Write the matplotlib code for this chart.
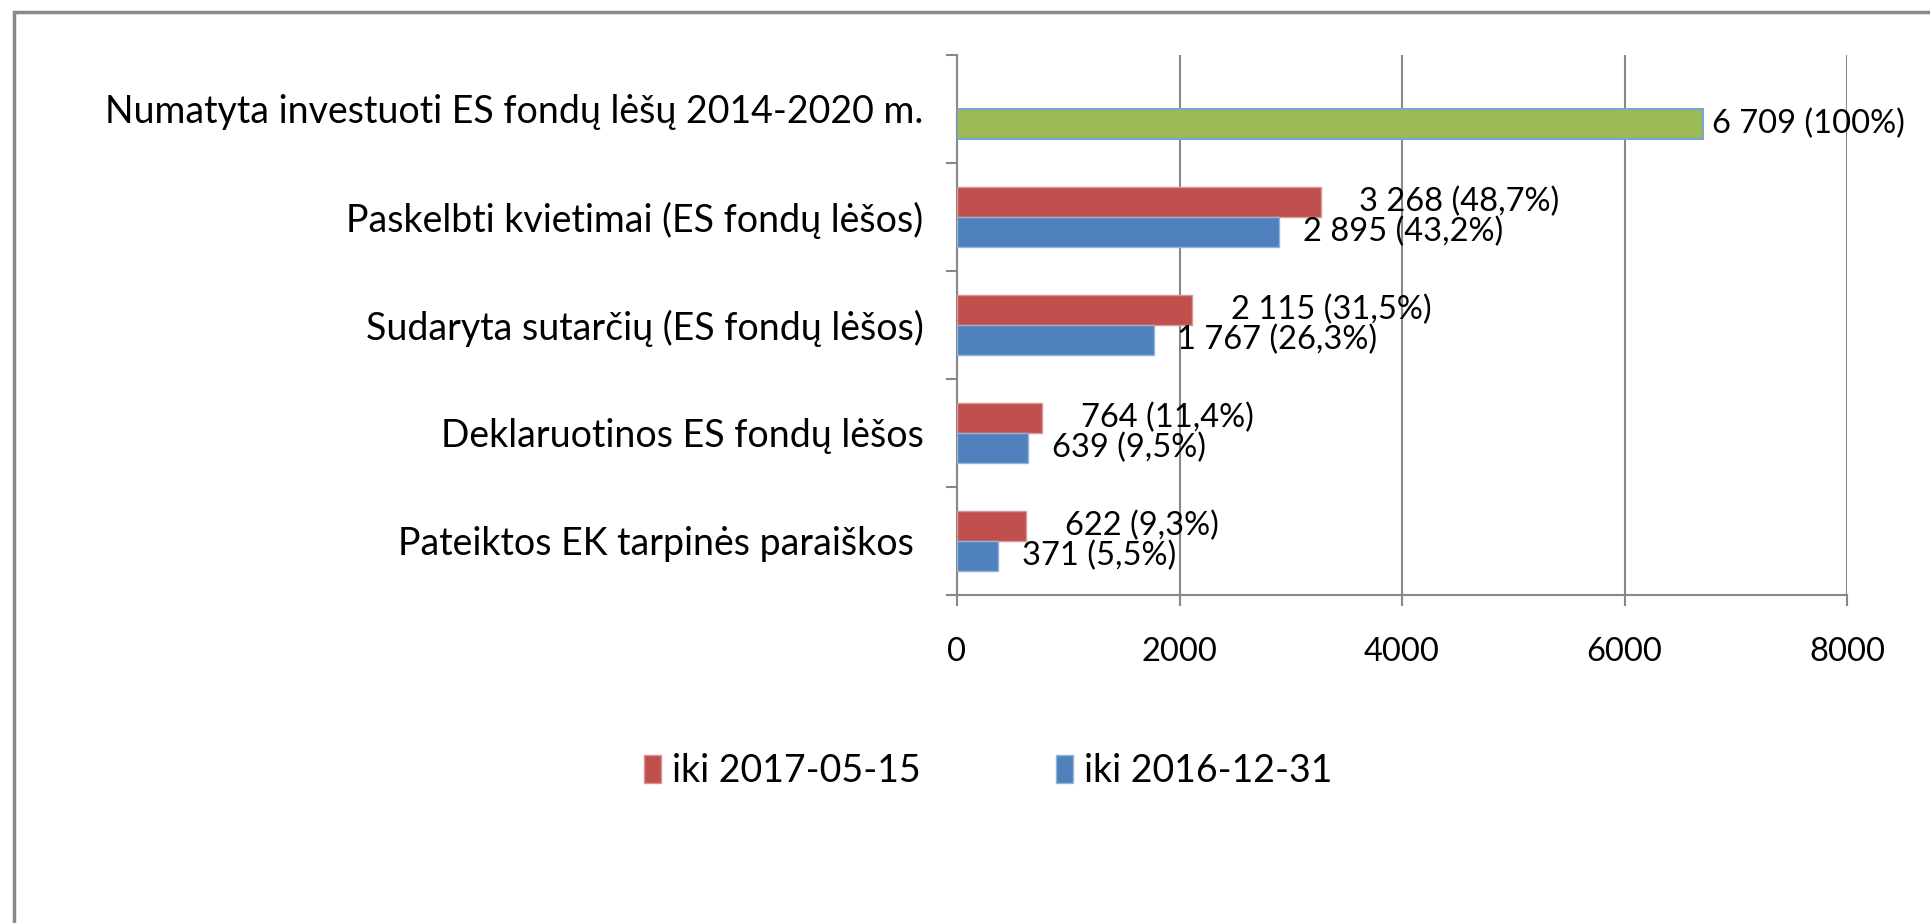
import matplotlib
matplotlib.use("Agg")
import matplotlib.pyplot as plt
from matplotlib.patches import Rectangle, Patch

plt.rcParams["font.family"] = ["Lato", "DejaVu Sans"]

# Data (EUR millions)
categories = [
    "Numatyta investuoti ES fondų lėšų 2014-2020 m.",
    "Paskelbti kvietimai (ES fondų lėšos)",
    "Sudaryta sutarčių (ES fondų lėšos)",
    "Deklaruotinos ES fondų lėšos",
    "Pateiktos EK tarpinės paraiškos ",
]
planned_total = 6709
values_2017 = [3268, 2115, 764, 622]   # iki 2017-05-15, categories 2..5
values_2016 = [2895, 1767, 639, 371]   # iki 2016-12-31, categories 2..5
series_names = ["iki 2017-05-15", "iki 2016-12-31"]
xticks = [0, 2000, 4000, 6000, 8000]

RED = "#C0504D"
BLUE = "#4F81BD"
GREEN = "#9BBB59"
GRID = "#888888"
FS = 23.5       # ticks and value labels
FS_CAT = 27     # category labels
FS_LEG = 27     # legend


def fmt_label(v):
    p = v / planned_total * 100
    pct = "100" if round(p, 1) == 100 else f"{p:.1f}".replace(".", ",")
    num = f"{v:,}".replace(",", " ")
    return f"{num} ({pct}%)"


fig = plt.figure(figsize=(19.31, 9.23), dpi=100)
ax = fig.add_axes([957 / 1931, 1 - 595 / 923, 890 / 1931, 540 / 923])

h = 0.274
pos = list(range(1, len(categories)))
red_bars = ax.barh([p - h / 2 for p in pos], values_2017, height=h,
                   color=RED, edgecolor="#D99694", linewidth=1, zorder=3)
blue_bars = ax.barh([p + h / 2 for p in pos], values_2016, height=h,
                    color=BLUE, edgecolor="#95B3D7", linewidth=1, zorder=3)
green_bar = ax.barh([0 + h / 2], [planned_total], height=h,
                    color=GREEN, edgecolor="#7FA3D0", linewidth=1.5, zorder=3)

ax.bar_label(red_bars, labels=[fmt_label(v) for v in values_2017],
             padding=28, fontsize=FS)
ax.bar_label(blue_bars, labels=[fmt_label(v) for v in values_2016],
             padding=17, fontsize=FS)
ax.bar_label(green_bar, labels=[fmt_label(planned_total)],
             padding=6, fontsize=FS, clip_on=False)

ax.set_xlim(0, 8000)
ax.set_ylim(len(categories) - 0.5, -0.5)
ax.set_xticks(xticks)
ax.set_xticklabels([str(t) for t in xticks], fontsize=FS)
ax.set_yticks(range(len(categories)))
ax.set_yticklabels(categories, fontsize=FS_CAT)
ax.set_yticks([i - 0.5 for i in range(len(categories) + 1)], minor=True)
ax.tick_params(axis="y", which="major", length=0, pad=24)
ax.tick_params(axis="y", which="minor", length=8, width=1.5, color=GRID)
ax.tick_params(axis="x", length=8, width=1.5, color=GRID, pad=22)

ax.grid(axis="x", color=GRID, linewidth=1.5, zorder=0)
for side in ["top", "right"]:
    ax.spines[side].set_visible(False)
for side in ["left", "bottom"]:
    ax.spines[side].set_color(GRID)
    ax.spines[side].set_linewidth(1.5)

handles = [Patch(facecolor=RED, edgecolor="#D99694"),
           Patch(facecolor=BLUE, edgecolor="#95B3D7")]
fig.legend(handles, series_names, loc="center", ncol=2,
           bbox_to_anchor=(988 / 1931, 1 - 771 / 923), frameon=False,
           fontsize=FS_LEG, handlelength=0.45, handleheight=0.75,
           handletextpad=0.3, columnspacing=3.6)

# chart border
fig.patches.append(Rectangle((14 / 1931, -0.1), 1.2, 1.1 - 12 / 923,
                             transform=fig.transFigure, fill=False,
                             edgecolor="#888888", linewidth=2.5))

fig.savefig("out.png", dpi=100)
